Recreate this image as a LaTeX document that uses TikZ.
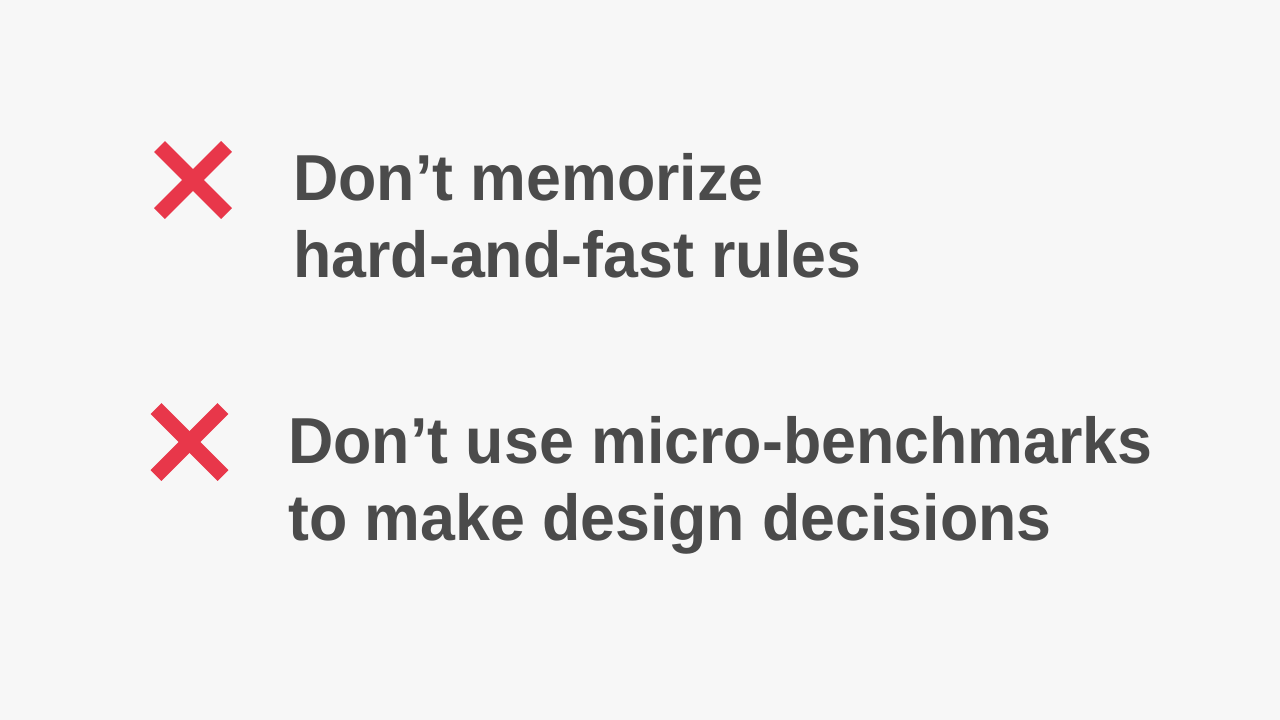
\documentclass[tikz,border=0pt]{standalone}
\usepackage{fontspec}
\newfontfamily\slidefont{Liberation Sans}[FakeStretch=0.965]
\definecolor{bgc}{HTML}{F7F7F7}
\definecolor{crossred}{HTML}{E8374A}
\definecolor{txtc}{HTML}{4B4B4B}
\tikzset{
  crossbar/.style={draw=crossred, line width=15.5pt, line cap=butt},
  slidetext/.style={anchor=base west, inner sep=0pt, text=txtc,
    font=\slidefont\bfseries\fontsize{65}{77}\selectfont}
}
\begin{document}
\begin{tikzpicture}[x=1pt,y=-1pt]
\fill[bgc] (0,0) rectangle (1280,720);
\useasboundingbox (0,0) rectangle (1280,720);
% first cross
\coordinate (c1) at (193,180);
\draw[crossbar] ([shift={(-33.5,-33.5)}]c1) -- ([shift={(33.5,33.5)}]c1);
\draw[crossbar] ([shift={(-33.5,33.5)}]c1) -- ([shift={(33.5,-33.5)}]c1);
% second cross
\coordinate (c2) at (189.5,442);
\draw[crossbar] ([shift={(-33.5,-33.5)}]c2) -- ([shift={(33.5,33.5)}]c2);
\draw[crossbar] ([shift={(-33.5,33.5)}]c2) -- ([shift={(33.5,-33.5)}]c2);
% texts
\node[slidetext] (t1a) at (293,200) {Don’t memorize};
\node[slidetext] (t1b) at (293,277) {hard-and-fast rules};
\node[slidetext] (t2a) at (288,463) {Don’t use micro-benchmarks};
\node[slidetext] (t2b) at (288,540) {to make design decisions};
\end{tikzpicture}
\end{document}
